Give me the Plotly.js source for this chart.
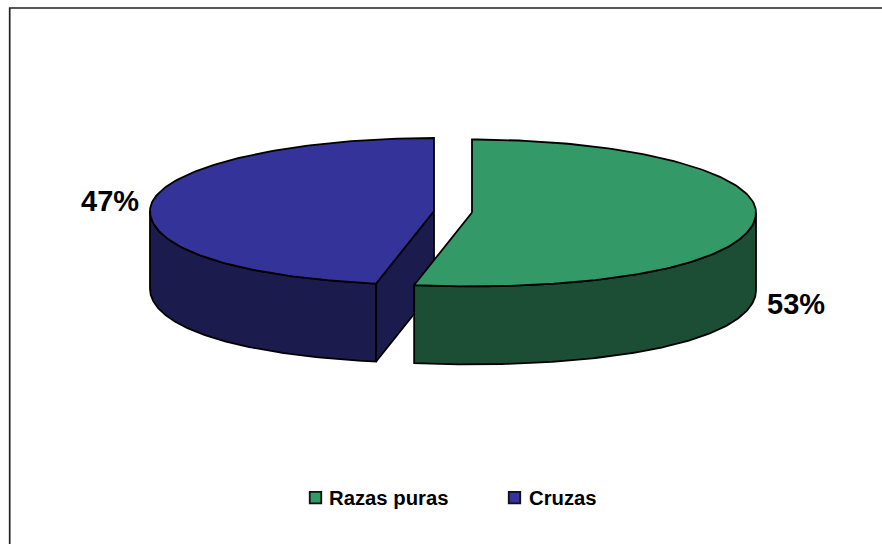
<!DOCTYPE html>
<html>
<head>
<meta charset="utf-8">
<script src="https://cdn.plot.ly/plotly-3.0.1.min.js"></script>
<style>html,body{margin:0;padding:0;background:#fff;overflow:hidden}</style>
</head>
<body>
<div id="chart" style="width:882px;height:544px"></div>
<script>
const categories = ["Razas puras", "Cruzas"];
const values = [53, 47];
const topColors = ["#339966", "#333399"];
const sideColors = ["#1c4e35", "#1b1b4e"];
const apexX = [472, 434];
const apexY = [212.5, 211];
const labelPos = [[796, 304], [110, 201]];
const legendX = [315.5, 514.5];
const legendTextX = [327.5, 527.5];
const legendY = 497.7;

const RX = 284, RY = 73, DEPTH = 78, PERSP = 0.09;
const total = values.reduce((a, b) => a + b, 0);
const edge = "#000";

function rim(i, a, b, dz) {
  const xs = [], ys = [], n = 160;
  for (let k = 0; k <= n; k++) {
    const t = (a + (b - a) * k / n) * Math.PI / 180;
    const front = Math.max(0, -Math.cos(t));
    const p = 1 + PERSP * front * front;
    xs.push(apexX[i] + RX * Math.sin(t) * p);
    ys.push(apexY[i] - RY * Math.cos(t) * (1 + 0.012 * front) + dz);
  }
  return [xs, ys];
}
function poly(xs, ys, fill) {
  return {
    type: "scatter", mode: "lines", x: xs, y: ys, fill: "toself", fillcolor: fill,
    line: { color: edge, width: 1.8, shape: "linear" }, hoverinfo: "skip", showlegend: false
  };
}
const split = values[0] / total * 360;
const traces = [];

// Cruzas: outer wall, cut face, top
{
  const a = split, b = 360, wall = Math.max(a, 180), wallEnd = 270;
  const [tx, ty] = rim(1, wall, wallEnd, 0);
  const [bx, by] = rim(1, wall, wallEnd, DEPTH);
  traces.push(poly(tx.concat(bx.slice().reverse(), [tx[0]]), ty.concat(by.slice().reverse(), [ty[0]]), sideColors[1]));
  const ex = tx[0], ey = ty[0];
  traces.push(poly([apexX[1], ex, ex, apexX[1], apexX[1]],
                   [apexY[1], ey, ey + DEPTH, apexY[1] + DEPTH, apexY[1]], sideColors[1]));
  const [ax, ay] = rim(1, a, b, 0);
  traces.push(poly([apexX[1]].concat(ax, [apexX[1]]), [apexY[1]].concat(ay, [apexY[1]]), topColors[1]));
}
// Razas puras: outer wall, top
{
  const a = 0, b = split;
  const [tx, ty] = rim(0, 90, b, 0);
  const [bx, by] = rim(0, 90, b, DEPTH);
  traces.push(poly(tx.concat(bx.slice().reverse(), [tx[0]]), ty.concat(by.slice().reverse(), [ty[0]]), sideColors[0]));
  const [ax, ay] = rim(0, a, b, 0);
  traces.push(poly([apexX[0]].concat(ax, [apexX[0]]), [apexY[0]].concat(ay, [apexY[0]]), topColors[0]));
}
// Legend swatches
categories.forEach((c, i) => {
  traces.push({
    type: "scatter", mode: "markers", name: c, x: [legendX[i]], y: [legendY], cliponaxis: false,
    marker: { symbol: "square", size: 11.5, color: topColors[i], line: { color: "#111", width: 1.8 } },
    hoverinfo: "skip", showlegend: false
  });
});

const annotations = values.map((v, i) => ({
  x: labelPos[i][0], y: labelPos[i][1], xref: "x", yref: "y", showarrow: false,
  text: "<b>" + Math.round(v / total * 100) + "%</b>",
  font: { family: "Liberation Sans, Arial, sans-serif", size: 29, color: "#000" }
})).concat(categories.map((c, i) => ({
  x: legendTextX[i], y: legendY, xref: "x", yref: "y", xanchor: "left", showarrow: false,
  xshift: -1, text: "<b>" + c + "</b>",
  font: { family: "Liberation Sans, Arial, sans-serif", size: 20.3, color: "#000" }
})));

const layout = {
  width: 882, height: 544, margin: { l: 0, r: 0, t: 0, b: 0 },
  paper_bgcolor: "#fff", plot_bgcolor: "#fff", showlegend: false,
  xaxis: { range: [0, 882], visible: false, fixedrange: true },
  yaxis: { range: [544, 0], visible: false, fixedrange: true },
  annotations,
  shapes: [{ type: "path", path: "M 9.7 544 L 9.7 8 L 882 8", line: { color: "#222", width: 1.7 } }]
};
Plotly.newPlot("chart", traces, layout, { staticPlot: true, displayModeBar: false });
</script>
</body>
</html>
